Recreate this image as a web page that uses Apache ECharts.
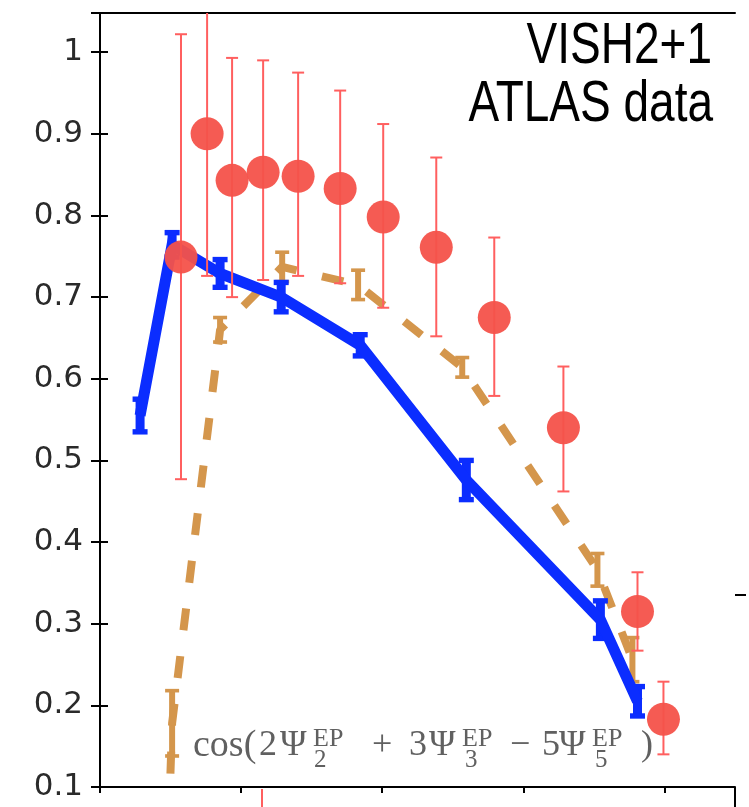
<!DOCTYPE html>
<html>
<head>
<meta charset="utf-8">
<script src="https://cdn.jsdelivr.net/npm/echarts@6/dist/echarts.min.js"></script>
<style>html,body{margin:0;padding:0;background:#fff;}#c{width:749px;height:807px;}</style>
</head>
<body>
<div id="c"></div>
<script>
// ---- data (x = Npart, y = correlation) ----
const yTicks = [0.1, 0.2, 0.3, 0.4, 0.5, 0.6, 0.7, 0.8, 0.9, 1];

// ATLAS data (red circles)
const atlasX    = [57.4, 75.9, 93.6, 115.6, 140.4, 170.2, 200.7, 238.3, 279.4, 328.4, 380.9, 399.3];
const atlasY    = [0.749, 0.900, 0.843, 0.853, 0.848, 0.833, 0.798, 0.761, 0.675, 0.540, 0.315, 0.183];
const atlasLow  = [0.477, 0.726, 0.700, 0.721, 0.726, 0.717, 0.687, 0.652, 0.579, 0.462, 0.267, 0.140];
const atlasHigh = [1.022, 1.074, 0.993, 0.990, 0.975, 0.953, 0.912, 0.871, 0.773, 0.615, 0.363, 0.229];

// VISH2+1 (blue solid)
const vishX   = [28.4, 51.1, 85.1, 128.4, 184.4, 259.6, 354.6, 380.9];
const vishY   = [0.555, 0.764, 0.729, 0.700, 0.641, 0.476, 0.305, 0.205];
const vishErr = [0.020, 0.015, 0.017, 0.018, 0.013, 0.024, 0.023, 0.018];

// second model curve (orange dashed)
const dashX   = [28.4, 51.1, 85.1, 129.1, 182.9, 256.7, 352.5, 377.3];
const dashY   = [-1.0, 0.178, 0.660, 0.737, 0.715, 0.614, 0.366, 0.256];
const dashErr = [null, 0.040, 0.015, 0.018, 0.018, 0.012, 0.020, 0.027];

const Y_MIN = 0.1, Y_MAX = 1.048;

function errItems(xs, lo, hi) {
  const out = [];
  for (let i = 0; i < xs.length; i++) if (lo[i] != null) out.push([xs[i], lo[i], hi[i]]);
  return out;
}
function errRenderer(color, lw, capW) {
  return function (params, api) {
    const x = api.value(0);
    let lo = api.value(1), hi = api.value(2);
    const capTop = hi <= Y_MAX, capBot = lo >= Y_MIN;
    hi = Math.min(hi, Y_MAX); lo = Math.max(lo, Y_MIN);
    const a = api.coord([x, lo]), b = api.coord([x, hi]);
    const st = { stroke: color, lineWidth: lw };
    const cw = Math.max(2, lw * 0.6);
    const ch = [{ type: 'line', shape: { x1: a[0], y1: a[1], x2: b[0], y2: b[1] }, style: st }];
    if (capBot) ch.push({ type: 'line', shape: { x1: a[0] - capW / 2, y1: a[1], x2: a[0] + capW / 2, y2: a[1] }, style: { stroke: color, lineWidth: cw } });
    if (capTop) ch.push({ type: 'line', shape: { x1: b[0] - capW / 2, y1: b[1], x2: b[0] + capW / 2, y2: b[1] }, style: { stroke: color, lineWidth: cw } });
    return { type: 'group', children: ch };
  };
}

const RED = '#f4524a', RED_BAR = '#ff5f5f', BLUE = '#0b2dff', ORANGE = '#d4964c';

const chart = echarts.init(document.getElementById('c'), null, { renderer: 'canvas' });

const serif = '"Liberation Serif", "DejaVu Serif", serif';
const fGray = '#606060';
// y is the vertical middle of the text box
function ftxt(t, x, y, size) {
  return { type: 'text', x: x, y: y, z: 50, style: { text: t, font: size + 'px ' + serif, fill: fGray, textAlign: 'left', textVerticalAlign: 'middle' } };
}
const MAIN = 36, SUP = 26, SUB = 25, yM = 746, ySup = 739, ySub = 760;

chart.setOption({
  animation: false,
  backgroundColor: '#fff',
  grid: { left: 100, top: 13, right: 14, bottom: 20, containLabel: false },
  xAxis: [
    { type: 'value', min: 0, max: 450, interval: 100, position: 'bottom',
      axisLine: { show: true, lineStyle: { color: '#000', width: 2 } },
      axisTick: { show: true, inside: false, length: 6, lineStyle: { color: '#000', width: 2 } },
      axisLabel: { show: false }, splitLine: { show: false } },
    { type: 'value', min: 0, max: 450, interval: 100, position: 'top',
      axisLine: { show: true, lineStyle: { color: '#000', width: 2 } },
      axisTick: { show: false }, axisLabel: { show: false }, splitLine: { show: false } }
  ],
  yAxis: [
    { type: 'value', min: Y_MIN, max: Y_MAX, interval: 0.1, position: 'left',
      axisLine: { show: true, lineStyle: { color: '#000', width: 2 } },
      axisTick: { show: true, inside: true, length: 8, lineStyle: { color: '#000', width: 2 } },
      axisLabel: { show: true, margin: 17, color: '#2a2a2a', fontSize: 31, fontFamily: '"DejaVu Sans", sans-serif', showMaxLabel: false,
        formatter: function (v) { const r = Math.round(v * 10) / 10; return yTicks.indexOf(r) >= 0 ? String(r) : ''; } },
      splitLine: { show: false } },
    { type: 'value', min: Y_MIN, max: Y_MAX, interval: 0.1, position: 'right',
      axisLine: { show: true, lineStyle: { color: '#000', width: 2 } },
      axisTick: { show: true, inside: true, length: 9, lineStyle: { color: '#000', width: 2 } },
      axisLabel: { show: false }, splitLine: { show: false } }
  ],
  series: [
    { name: 'dashed', type: 'line', z: 2, clip: true, symbol: 'none',
      data: dashX.map((x, i) => [x, dashY[i]]),
      lineStyle: { color: ORANGE, width: 8, type: [22, 26], cap: 'butt' } },
    { name: 'dashedErr', type: 'custom', z: 2, clip: true,
      renderItem: errRenderer(ORANGE, 6, 14),
      data: errItems(dashX, dashY.map((v, i) => dashErr[i] == null ? null : v - dashErr[i]), dashY.map((v, i) => dashErr[i] == null ? null : v + dashErr[i])) },
    { name: 'VISH2+1', type: 'line', z: 3, clip: true, symbol: 'none',
      data: vishX.map((x, i) => [x, vishY[i]]),
      lineStyle: { color: BLUE, width: 11, join: 'miter' } },
    { name: 'vishErr', type: 'custom', z: 3, clip: true,
      renderItem: errRenderer(BLUE, 9, 15),
      data: errItems(vishX, vishY.map((v, i) => v - vishErr[i]), vishY.map((v, i) => v + vishErr[i])) },
    { name: 'atlasErr', type: 'custom', z: 4, clip: true,
      renderItem: errRenderer(RED_BAR, 2, 12),
      data: errItems(atlasX, atlasLow, atlasHigh) },
    { name: 'ATLAS data', type: 'scatter', z: 5, symbol: 'circle', symbolSize: 33,
      itemStyle: { color: RED, opacity: 0.95 },
      data: atlasX.map((x, i) => [x, atlasY[i]]) }
  ],
  graphic: [
    { type: 'text', x: 712, y: 47, scaleY: 1.25, z: 60,
      style: { text: 'VISH2+1', font: '46px "Liberation Sans", Arial, sans-serif', fill: '#000', textAlign: 'right', textVerticalAlign: 'middle' } },
    { type: 'text', x: 713, y: 105, scaleY: 1.25, z: 60,
      style: { text: 'ATLAS data', font: '46px "Liberation Sans", Arial, sans-serif', fill: '#000', textAlign: 'right', textVerticalAlign: 'middle' } },
    ftxt('cos(', 193, yM, 38),
    ftxt('2', 259, yM, MAIN),
    ftxt('Ψ', 280, yM, MAIN),
    ftxt('EP', 313, ySup, SUP),
    ftxt('2', 314, ySub, SUB),
    ftxt('+', 372, yM, MAIN),
    ftxt('3', 409, yM, MAIN),
    ftxt('Ψ', 429, yM, MAIN),
    ftxt('EP', 462, ySup, SUP),
    ftxt('3', 465, ySub, SUB),
    ftxt('−', 510, yM, MAIN),
    ftxt('5', 542, yM, MAIN),
    ftxt('Ψ', 559, yM, MAIN),
    ftxt('EP', 592, ySup, SUP),
    ftxt('5', 595, ySub, SUB),
    ftxt(')', 641, yM, MAIN),
    { type: 'line', z: 60, shape: { x1: 735, y1: 787, x2: 735, y2: 807 }, style: { stroke: '#000', lineWidth: 2 } },
    { type: 'line', z: 60, shape: { x1: 735, y1: 595, x2: 746, y2: 595 }, style: { stroke: '#000', lineWidth: 2 } },
    { type: 'line', z: 60, shape: { x1: 262, y1: 789, x2: 262, y2: 807 }, style: { stroke: RED_BAR, lineWidth: 2 } }
  ]
});
</script>
</body>
</html>
